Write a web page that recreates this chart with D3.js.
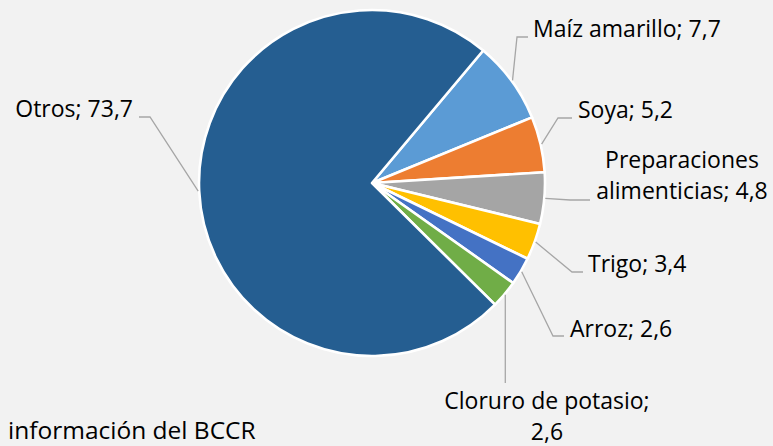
<!DOCTYPE html>
<html><head><meta charset="utf-8">
<script src="https://cdn.jsdelivr.net/npm/d3@7"></script>
<style>
html,body{margin:0;padding:0;background:#f2f2f2;}
svg{display:block;}
text{font-family:"Open Sans",Lato,sans-serif;fill:#000;}
</style></head>
<body>
<svg id="c" width="773" height="446"></svg>
<script>
const categories = ["Maíz amarillo","Soya","Preparaciones alimenticias","Trigo","Arroz","Cloruro de potasio","Otros"];
const values = [7.7,5.2,4.8,3.4,2.6,2.6,73.7];
const colors = ["#5b9bd5","#ed7d31","#a5a5a5","#ffc000","#4472c4","#70ad47","#255e91"];
const valueLabels = ["7,7","5,2","4,8","3,4","2,6","2,6","73,7"];
const sourceNote = "información del BCCR";

// label layout: text lines, elbow & text placement
const labelLayout = [
  {lines:["Maíz amarillo; 7,7"], elbow:[517,37], end:[528,37], tx:533, ty:37, anchor:"start"},
  {lines:["Soya; 5,2"], elbow:[558,118], end:[572,118], tx:578, ty:118, anchor:"start"},
  {lines:["Preparaciones","alimenticias; 4,8"], elbow:[570,200], end:[590,200], tx:682, ty:168, anchor:"middle"},
  {lines:["Trigo; 3,4"], elbow:[572,272], end:[583,272], tx:588, ty:272, anchor:"start"},
  {lines:["Arroz; 2,6"], elbow:[553,336], end:[564,336], tx:570, ty:337, anchor:"start"},
  {lines:["Cloruro de potasio;","2,6"], elbow:[506,340], end:[506,383], tx:547, ty:409, anchor:"middle"},
  {lines:["Otros; 73,7"], elbow:[150,117], end:[139,117], tx:133, ty:117, anchor:"end"}
];

const svg = d3.select("#c");
const cx = 372, cy = 183, R = 173;
const data = categories.map((c,i)=>({cat:c, v:values[i], col:colors[i], lay:labelLayout[i]}));
const start = 40*Math.PI/180;
const pie = d3.pie().value(d=>d.v).sort(null).startAngle(start).endAngle(start+2*Math.PI);
const arcs = pie(data);
const arc = d3.arc().innerRadius(0).outerRadius(R);
const g = svg.append("g").attr("transform",`translate(${cx},${cy})`);
g.selectAll("path").data(arcs).join("path")
  .attr("d",arc).attr("fill",d=>d.data.col)
  .attr("stroke","#fff").attr("stroke-width",2.6).attr("stroke-linejoin","round");

// leader lines and labels
arcs.forEach(a=>{
  const m = (a.startAngle+a.endAngle)/2;
  const p0 = [cx+Math.sin(m)*(R+1), cy-Math.cos(m)*(R+1)];
  const L = a.data.lay;
  let pts;
  if (a.data.cat==="Cloruro de potasio") pts=[p0,[p0[0],L.end[1]]];
  else pts=[p0,L.elbow,L.end];
  svg.append("path").attr("d",d3.line()(pts)).attr("fill","none")
    .attr("stroke","#a6a6a6").attr("stroke-width",1.3);
  const t = svg.append("text").attr("text-anchor",L.anchor).attr("font-size",23);
  L.lines.forEach((ln,i)=>t.append("tspan").attr("x",L.tx).attr("y",L.ty+i*31).text(ln));
});

svg.append("text").attr("x",8).attr("y",439).attr("font-size",24.5).text(sourceNote);
</script>
</body></html>
